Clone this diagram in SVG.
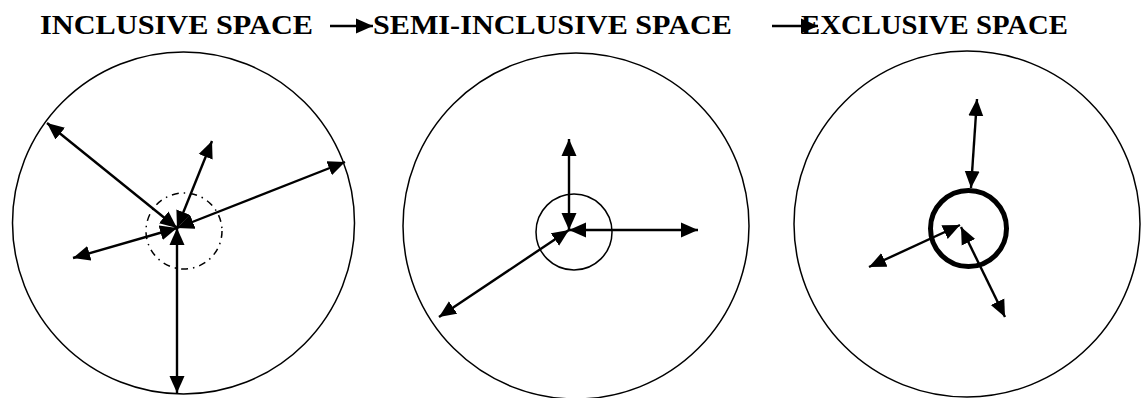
<svg xmlns="http://www.w3.org/2000/svg" width="1141" height="398" viewBox="0 0 1141 398">
<style>
.title{font-family:"Liberation Serif","Times New Roman",serif;font-weight:bold;font-size:28px;fill:#000}
.outer{fill:none;stroke:#000;stroke-width:1.5}
.arr{fill:none;stroke:#000;stroke-width:2.4;marker-start:url(#ah);marker-end:url(#ah)}
.arr1{fill:none;stroke:#000;stroke-width:2.6;marker-end:url(#ah)}
</style>
<defs>
<marker id="ah" markerUnits="userSpaceOnUse" markerWidth="18" markerHeight="16" refX="17" refY="8" orient="auto-start-reverse" viewBox="0 0 18 16">
<path d="M0,0.5 L17,8 L0,15.5 Z" fill="#000"/>
</marker>
</defs>
<rect width="1141" height="398" fill="#fff"/>
<g id="titles">
<text class="title" x="40" y="34" textLength="273" lengthAdjust="spacingAndGlyphs">INCLUSIVE SPACE</text>
<text class="title" x="373" y="34" textLength="359" lengthAdjust="spacingAndGlyphs">SEMI-INCLUSIVE SPACE</text>
<text class="title" x="801" y="34" textLength="267" lengthAdjust="spacingAndGlyphs">EXCLUSIVE SPACE</text>
</g>
<g id="inclusive">
<circle class="outer" cx="183.5" cy="223" r="171"/>
<circle cx="184" cy="231" r="38" fill="none" stroke="#000" stroke-width="1.5" stroke-dasharray="7 5 1.5 5"/>
</g>
<g id="semi-inclusive">
<circle class="outer" cx="576" cy="226" r="173"/>
<circle cx="574" cy="232" r="38" fill="none" stroke="#000" stroke-width="1.5"/>
</g>
<g id="exclusive">
<circle class="outer" cx="967" cy="224" r="173"/>
<circle cx="968.5" cy="228.5" r="38" fill="none" stroke="#000" stroke-width="5"/>
</g>
<g id="connectors">
<line class="arr1" x1="330" y1="26" x2="373" y2="26"/>
<line class="arr1" x1="772" y1="26" x2="818" y2="26"/>
<line class="arr" x1="177" y1="228" x2="47" y2="123"/>
<line class="arr" x1="177" y1="228" x2="212" y2="141"/>
<line class="arr" x1="177" y1="228" x2="345" y2="162"/>
<line class="arr" x1="177" y1="228" x2="73" y2="258"/>
<line class="arr" x1="177" y1="228" x2="177" y2="393"/>
<line class="arr" x1="569" y1="230" x2="569" y2="139"/>
<line class="arr" x1="569" y1="230" x2="698" y2="230"/>
<line class="arr" x1="569" y1="230" x2="439" y2="317"/>
<line class="arr" x1="971" y1="188" x2="977" y2="99"/>
<line class="arr" x1="960" y1="225" x2="869" y2="267"/>
<line class="arr" x1="961" y1="227" x2="1005" y2="317"/>
</g>
</svg>
